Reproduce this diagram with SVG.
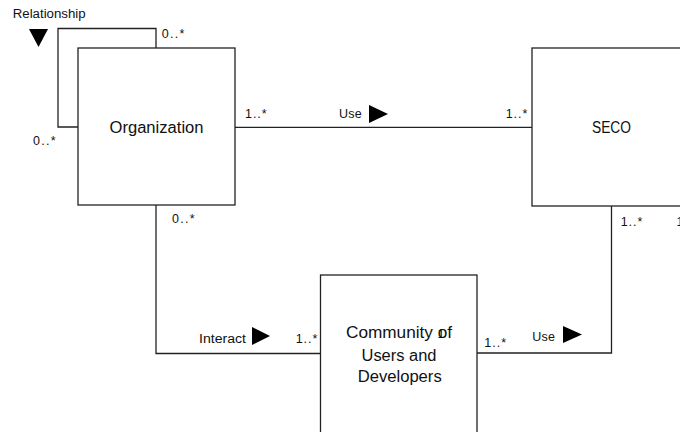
<svg xmlns="http://www.w3.org/2000/svg" width="680" height="432" viewBox="0 0 680 432">
<style>
.box{fill:#fff;stroke:#222;stroke-width:1.3}
.ln{fill:none;stroke:#222;stroke-width:1.3}
.tri{fill:#000}
text{font-family:"Liberation Sans",Arial,sans-serif;fill:#111}
.lbl{font-size:12.5px}
.nm{font-size:16px}
</style>
<rect width="680" height="432" fill="#fff"/>
<g id="connectors">
<polyline class="ln" points="156,48 156,28.5 58,28.5 58,127 78,127"/>
<line class="ln" x1="235" y1="127.3" x2="532" y2="127.3"/>
<polyline class="ln" points="156,205 156,353.5 320.5,353.5"/>
<polyline class="ln" points="477,353 611.5,353 611.5,206"/>
<polygon class="tri" points="29,29 48,29 38.5,47"/>
<polygon class="tri" points="369,105 369,123 388,114"/>
<polygon class="tri" points="252,327 252,345 270,336"/>
<polygon class="tri" points="563,326 563,343 582,334.5"/>
<text class="lbl" x="12.7" y="18.3" textLength="73" lengthAdjust="spacingAndGlyphs">Relationship</text>
<text class="lbl" x="161.7" y="38" textLength="22.7" lengthAdjust="spacing">0..*</text>
<text class="lbl" x="33" y="144.5" textLength="22.7" lengthAdjust="spacing">0..*</text>
<text class="lbl" x="245" y="118" textLength="21.7" lengthAdjust="spacing">1..*</text>
<text class="lbl" x="339" y="118" textLength="22.7" lengthAdjust="spacing">Use</text>
<text class="lbl" x="505.7" y="118" textLength="21.7" lengthAdjust="spacing">1..*</text>
<text class="lbl" x="172" y="223" textLength="22.7" lengthAdjust="spacing">0..*</text>
<text class="lbl" x="199" y="343" textLength="47" lengthAdjust="spacingAndGlyphs">Interact</text>
<text class="lbl" x="295.7" y="343" textLength="21.7" lengthAdjust="spacing">1..*</text>
<text class="lbl" x="484.3" y="347" textLength="21.7" lengthAdjust="spacing">1..*</text>
<text class="lbl" x="532.3" y="340.7" textLength="22.7" lengthAdjust="spacing">Use</text>
<text class="lbl" x="620.7" y="225.5" textLength="21.7" lengthAdjust="spacing">1..*</text>
<text class="lbl" x="676.5" y="225.5">1</text>
</g>
<g id="organization">
<rect class="box" x="78" y="48" width="157" height="157"/>
<text class="nm" x="156.5" y="132.7" text-anchor="middle" textLength="94" lengthAdjust="spacingAndGlyphs">Organization</text>
</g>
<g id="seco">
<rect class="box" x="532" y="48" width="160" height="158"/>
<text class="nm" x="611.5" y="133" text-anchor="middle" textLength="39" lengthAdjust="spacingAndGlyphs">SECO</text>
</g>
<g id="community">
<rect class="box" x="320.5" y="275" width="156.5" height="160"/>
<text class="nm" x="399" y="338" text-anchor="middle" textLength="106" lengthAdjust="spacingAndGlyphs">Community of</text>
<text class="nm" x="399" y="360.7" text-anchor="middle" textLength="75" lengthAdjust="spacingAndGlyphs">Users and</text>
<text class="nm" x="399.7" y="381.7" text-anchor="middle" textLength="84" lengthAdjust="spacingAndGlyphs">Developers</text>
<text class="lbl" x="437.5" y="338">1</text>
</g>
</svg>
